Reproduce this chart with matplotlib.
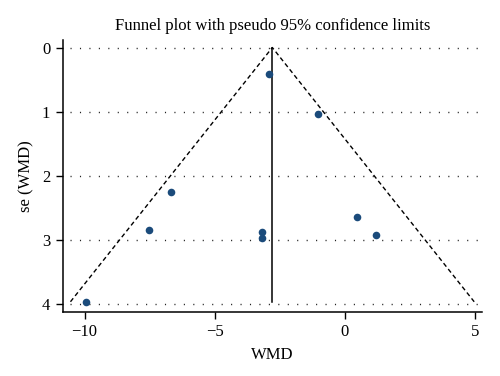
import matplotlib
matplotlib.use("Agg")
import matplotlib.pyplot as plt
import numpy as np

plt.rcParams['font.family'] = ['Liberation Serif', 'DejaVu Serif']

# Data
wmd = [-2.91, -1.01, -6.69, -7.51, -9.94, -3.19, -3.19, 0.48, 1.19]
se = [0.41, 1.03, 2.25, 2.85, 3.96, 2.88, 2.96, 2.64, 2.92]
pooled = -2.78
x_ticks = [-10, -5, 0, 5]
y_ticks = [0, 1, 2, 3, 4]

fig = plt.figure(figsize=(5.0, 3.76), dpi=100)
ax = fig.add_axes([0.1254, 0.171, 0.838, 0.7226])

for yt in y_ticks:
    ax.plot([-10.55, 5.2], [yt, yt], color='#222222', lw=1.0,
            linestyle=(0, (0.8, 6.0)), zorder=1)

semax = max(se)
ax.plot([pooled - 1.96 * semax, pooled, pooled + 1.96 * semax],
        [semax, 0, semax], color='black', lw=1.0,
        linestyle=(0, (3.2, 2.2)), zorder=2)
ax.plot([pooled, pooled], [0, semax], color='black', lw=1.1, zorder=2)

ax.scatter(wmd, se, s=30, color='#1b4b7b', zorder=3, linewidths=0)

ax.set_xlim(-10.84, 5.27)
ax.set_ylim(4.115, -0.117)
ax.set_xticks(x_ticks)
ax.set_xticklabels(['\u221210', '\u22125', '0', '5'])
ax.set_yticks(y_ticks)
ax.tick_params(direction='out', length=5, width=1, labelsize=12, pad=4)
ax.spines['top'].set_visible(False)
ax.spines['right'].set_visible(False)
ax.spines['left'].set_linewidth(1.1)
ax.spines['bottom'].set_linewidth(1.1)

ax.set_xlabel('WMD', fontsize=12, labelpad=5)
ax.set_ylabel('se (WMD)', fontsize=12, labelpad=5)
ax.set_title('Funnel plot with pseudo 95% confidence limits', fontsize=12, pad=7)

fig.savefig('out.png', dpi=100)
